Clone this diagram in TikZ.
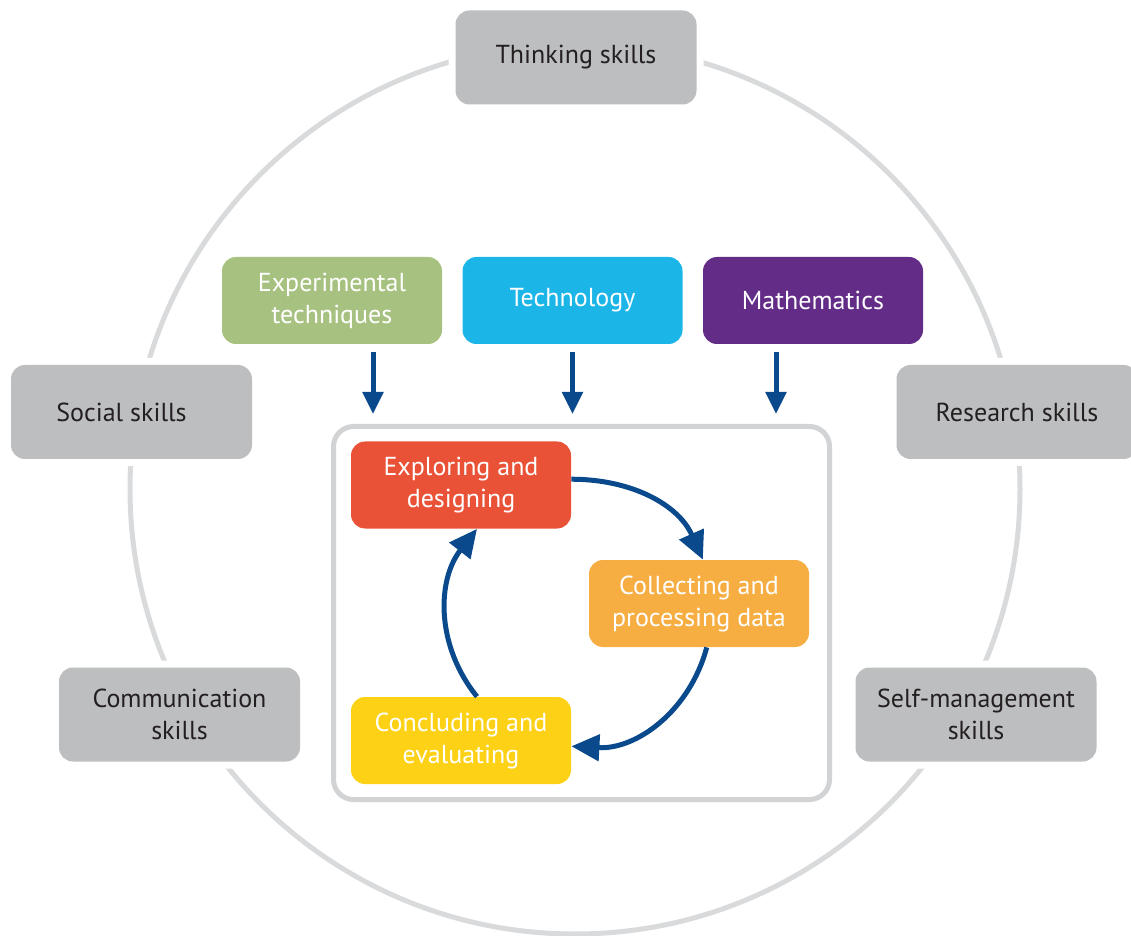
\documentclass[tikz,border=0pt]{standalone}
\usepackage{fontspec}
\setmainfont{PT Sans}
\usetikzlibrary{arrows.meta}
\definecolor{ringgray}{HTML}{D9DADB}
\definecolor{framegray}{HTML}{D1D3D4}
\definecolor{skillgray}{HTML}{BCBEC0}
\definecolor{textdark}{HTML}{231F20}
\definecolor{exptgreen}{HTML}{A7C280}
\definecolor{techcyan}{HTML}{1CB5E8}
\definecolor{mathpurple}{HTML}{622C87}
\definecolor{explred}{HTML}{E95236}
\definecolor{collorange}{HTML}{F6AD42}
\definecolor{concyellow}{HTML}{FDD116}
\definecolor{arrowblue}{HTML}{0A4A8C}
\tikzset{
	skill/.style={fill=skillgray, rounded corners=7pt, minimum width=120.5pt, minimum height=47pt,
		align=center, text=textdark, font=\fontsize{13}{16}\selectfont,
		preaction={draw=white, line width=7pt}},
	area/.style={rounded corners=7pt, minimum width=110pt, minimum height=43.5pt,
		align=center, text=white, font=\fontsize{13}{16}\selectfont},
	flow/.style={draw=arrowblue, line width=2.5pt, -{Triangle[width=10pt,length=11pt]},
		shorten <=4pt, shorten >=5pt},
	loopline/.style={draw=arrowblue, line width=2.5pt, -{Triangle[width=13pt,length=14pt]}},
}

\begin{document}
\begin{tikzpicture}[x=0.5pt, y=-0.5pt]
	\useasboundingbox (0,0) rectangle (1131,936);
	\clip (0,0) rectangle (1131,936);
	\draw[draw=ringgray, line width=2.5pt] (575,489) circle (445);
	\node[draw=framegray, line width=2.5pt, rounded corners=10pt, minimum width=248pt, minimum height=186.5pt] (frame) at (581.5,613) {};

	\node[skill] (think) at (576,57.5) {Thinking skills};
	\node[skill] (social) at (131.5,412) {Social skills\hspace*{10pt}};
	\node[skill] (research) at (1017,412) {Research skills};
	\node[skill] (comm) at (179.5,714.5) {Communication\\skills};
	\node[skill] (selfm) at (976,714.5) {Self-management\\skills};

	\node[area, fill=exptgreen] (expt) at (332,300.5) {Experimental\\techniques};
	\node[area, fill=techcyan] (tech) at (572.5,300.5) {Technology};
	\node[area, fill=mathpurple] (maths) at (813,300.5) {Mathematics};

	\draw[flow] ([xshift=20.5pt]expt.south) -- ([xshift=20.5pt]expt.south |- frame.north);
	\draw[flow] (tech.south) -- (tech.south |- frame.north);
	\draw[flow] ([xshift=-18.5pt]maths.south) -- ([xshift=-18.5pt]maths.south |- frame.north);

	\node[area, fill=explred] (expl) at (461,485) {Exploring and\\designing};
	\node[area, fill=collorange] (coll) at (699,603.5) {Collecting and\\processing data};
	\node[area, fill=concyellow] (conc) at (461,740.5) {Concluding and\\evaluating};

	\draw[loopline] (expl.3) to[out=0, in=114] (coll.85);
	\draw[loopline] (coll.-80) to[out=-105, in=-3] (conc.-3);
	\draw[loopline] (conc.70) to[out=129, in=-128] (expl.-70);
\end{tikzpicture}
\end{document}
